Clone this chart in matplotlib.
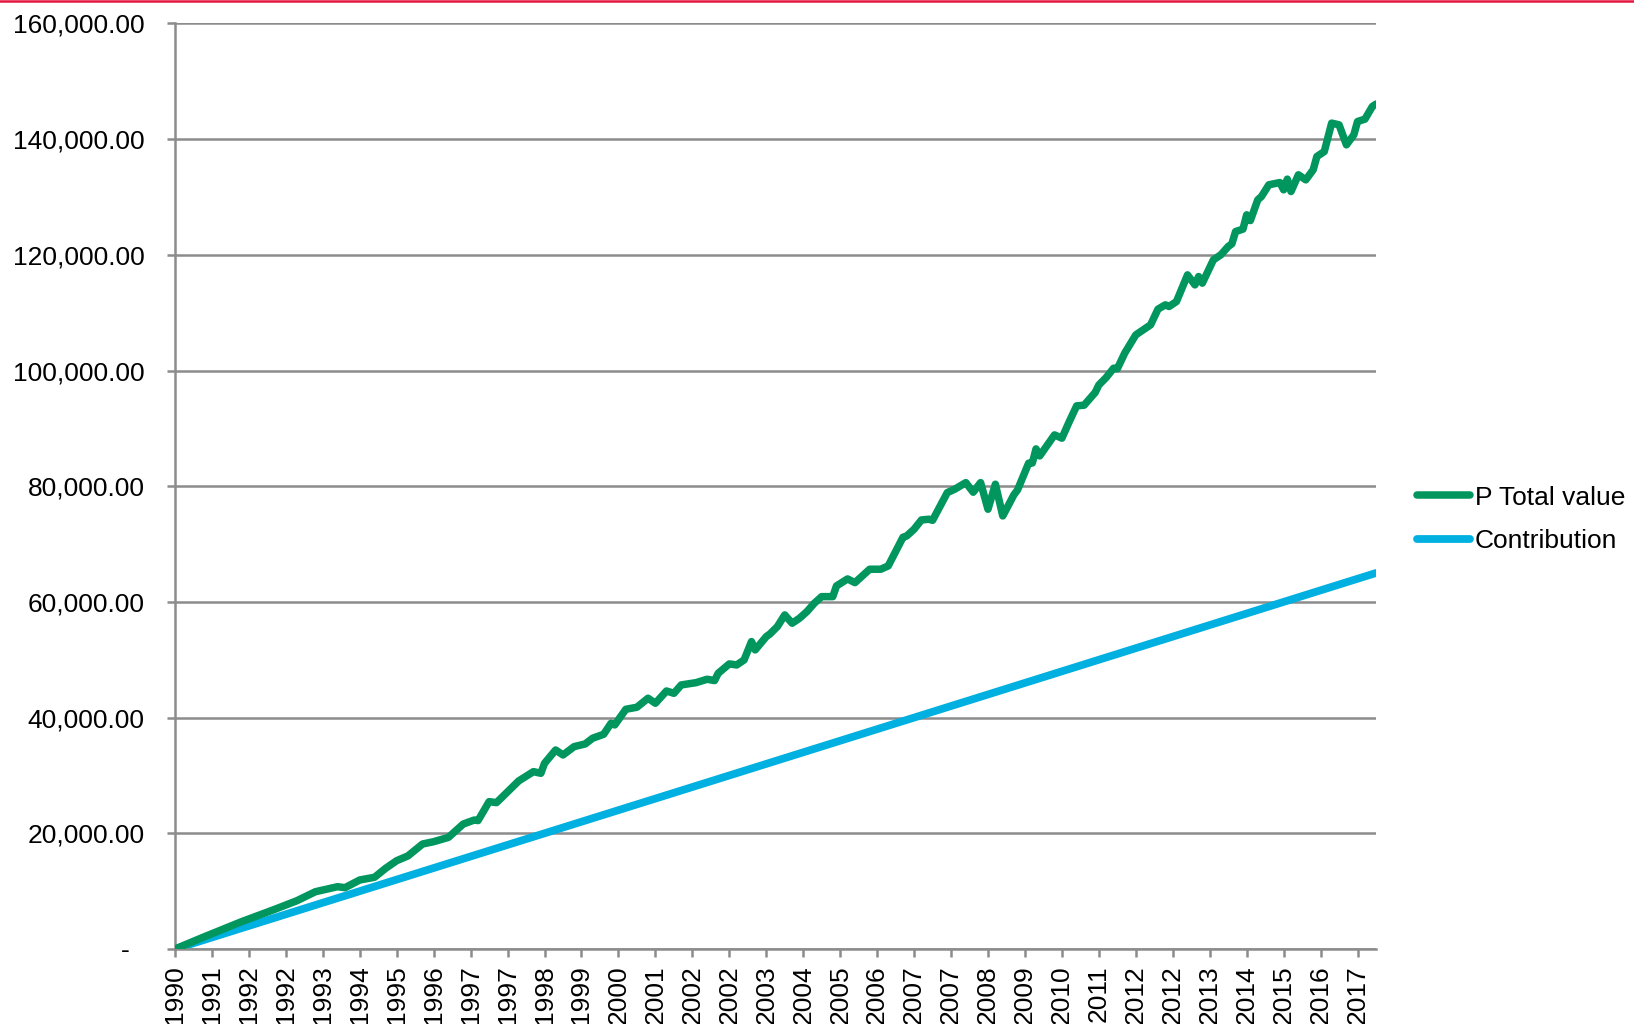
import matplotlib
matplotlib.use("Agg")
import matplotlib.pyplot as plt
from matplotlib.lines import Line2D

plt.rcParams['font.family'] = ['Liberation Sans', 'DejaVu Sans']

# ---- data (month offset from Jan 1990 -> value) ----
months = [0, 8, 18, 27, 33, 38, 44, 46, 50, 54, 57, 60, 63, 67, 70, 74, 78, 81, 82,
          85, 87, 93, 97, 99, 100, 103, 105, 108, 111, 113, 116, 118, 119, 122, 125,
          128, 130, 133, 135, 137, 141, 144, 146, 147, 150, 152, 154, 156, 157, 160,
          161, 163, 165, 167, 169, 171, 173, 175, 178, 179, 182, 184, 188, 191, 193,
          197, 198, 200, 202, 204, 205, 209, 211, 214, 216, 218, 220, 222, 224, 227,
          228, 231, 232, 233, 234, 238, 240, 242, 244, 246, 249, 250, 252, 254, 255,
          257, 260, 262, 264, 266, 268, 269, 271, 274, 276, 277, 278, 281, 283, 285,
          286, 287, 289, 290, 291, 293, 294, 296, 299, 300, 301, 302, 304, 306, 308,
          309, 311, 313, 315, 317, 319, 320, 322, 324, 325]
total_value = [0, 2130, 4720, 6860, 8350, 9900, 10770, 10600, 11930, 12400, 13950,
               15270, 16080, 18150, 18550, 19300, 21600, 22300, 22200, 25470, 25300,
               29050, 30660, 30370, 32100, 34400, 33540, 34980, 35450, 36430, 37120,
               39020, 38730, 41440, 41790, 43350, 42480, 44600, 44200, 45650, 46040,
               46630, 46400, 47670, 49280, 49100, 49970, 53140, 51700, 54000, 54460,
               55730, 57750, 56310, 57180, 58320, 59770, 60910, 60910, 62760, 63970,
               63330, 65650, 65650, 66220, 71180, 71400, 72560, 74170, 74290, 74100,
               78900, 79480, 80620, 78960, 80620, 76020, 80340, 74860, 78500, 79360,
               83980, 84010, 86450, 85240, 88870, 88300, 91170, 93890, 94000, 96190,
               97500, 98800, 100400, 100300, 103000, 106160, 107030, 107890, 110600,
               111350, 111060, 111920, 116530, 114800, 116240, 115100, 119130, 119990,
               121430, 121900, 124020, 124440, 126910, 125920, 129500, 130070, 132100,
               132490, 131230, 133080, 130940, 133830, 132960, 134690, 136990, 137850,
               142760, 142470, 139010, 140740, 143040, 143450, 145630, 146050]
contribution_months = [0, 325]
contribution = [0, 65000]

tick_labels = ['1990', '1991', '1992', '1992', '1993', '1994', '1995', '1996', '1997',
               '1997', '1998', '1999', '2000', '2001', '2002', '2002', '2003', '2004',
               '2005', '2006', '2007', '2007', '2008', '2009', '2010', '2011', '2012',
               '2012', '2013', '2014', '2015', '2016', '2017']
y_ticks = [0, 20000, 40000, 60000, 80000, 100000, 120000, 140000, 160000]
series_names = ['P Total value', 'Contribution']

# ---- figure ----
W, H = 1634, 1024
fig = plt.figure(figsize=(W / 100, H / 100), dpi=100)
ax = fig.add_axes([175 / W, 1 - 949 / H, (1376 - 175) / W, (949 - 23.4) / H])

grid_c = '#8c8c8c'
fs = 19

ax.plot(months, total_value, color='#00965E', lw=5.4, solid_capstyle='round',
        solid_joinstyle='round', label=series_names[0], zorder=3)
ax.plot(contribution_months, contribution, color='#00B0E0', lw=5.6,
        solid_capstyle='round', label=series_names[1], zorder=2)

ax.set_xlim(0, 325)
ax.set_ylim(0, 160000)
ax.set_yticks(y_ticks)
ax.set_yticklabels([('-  ' if v == 0 else f'{v:,.2f}') for v in y_ticks], fontsize=fs)
ax.set_xticks(list(range(0, 10 * len(tick_labels), 10)))
ax.set_xticklabels(tick_labels, rotation=90, fontsize=fs)

ax.yaxis.grid(True, color=grid_c, lw=1.8)
ax.set_axisbelow(True)
for s in ['top', 'right']:
    ax.spines[s].set_visible(False)
for s in ['left', 'bottom']:
    ax.spines[s].set_color(grid_c)
    ax.spines[s].set_linewidth(1.8)
ax.tick_params(axis='y', length=5.5, width=1.8, color=grid_c, pad=16.5, labelcolor='black')
ax.tick_params(axis='x', length=5.5, width=1.8, color=grid_c, pad=6, labelcolor='black')

fig.legend(loc='center left', bbox_to_anchor=(1417 / W, 1 - 519.5 / H), frameon=False,
           fontsize=fs, handlelength=2.0, handletextpad=0.2, labelspacing=0.75,
           borderpad=0, borderaxespad=0)

# red rule at top
fig.add_artist(Line2D([0, 1], [1 - 1.2 / H, 1 - 1.2 / H], color='#E4173E', lw=1.8,
                      transform=fig.transFigure))

fig.savefig('out.png', dpi=100)
